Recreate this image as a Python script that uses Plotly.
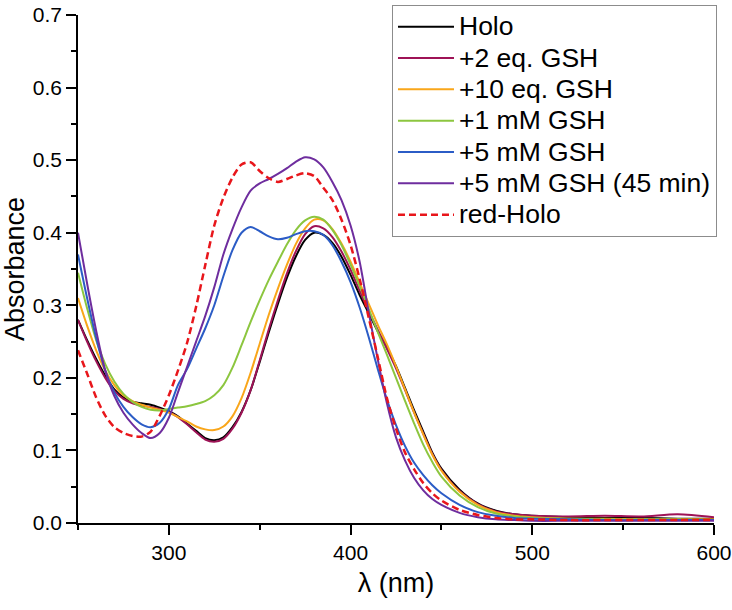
import plotly.graph_objects as go

wavelength = [250, 255, 260, 265, 270, 275, 280, 285, 290, 295, 300, 305, 310, 315, 320, 325,
              330, 335, 340, 345, 350, 355, 360, 365, 370, 375, 380, 385, 390, 395, 400, 405,
              410, 415, 420, 425, 430, 435, 440, 445, 450, 460, 470, 480, 490, 500, 520, 540,
              560, 580, 600]

holo = [0.280, 0.252, 0.226, 0.203, 0.184, 0.173, 0.167, 0.165, 0.163, 0.159, 0.154, 0.147,
        0.137, 0.127, 0.117, 0.114, 0.118, 0.132, 0.153, 0.183, 0.222, 0.263, 0.302, 0.338,
        0.368, 0.390, 0.400, 0.397, 0.386, 0.367, 0.342, 0.314, 0.289, 0.264, 0.242, 0.216,
        0.186, 0.155, 0.126, 0.097, 0.075, 0.046, 0.027, 0.017, 0.012, 0.010, 0.008, 0.007,
        0.007, 0.006, 0.006]

gsh_2eq = [0.280, 0.250, 0.223, 0.200, 0.182, 0.171, 0.165, 0.162, 0.160, 0.157, 0.153, 0.146,
           0.136, 0.125, 0.115, 0.112, 0.116, 0.130, 0.152, 0.183, 0.224, 0.267, 0.307, 0.344,
           0.375, 0.398, 0.409, 0.406, 0.394, 0.374, 0.349, 0.320, 0.292, 0.266, 0.240, 0.213,
           0.183, 0.152, 0.123, 0.095, 0.073, 0.044, 0.026, 0.016, 0.012, 0.010, 0.009, 0.010,
           0.009, 0.012, 0.008]

gsh_10eq = [0.310, 0.272, 0.238, 0.210, 0.190, 0.176, 0.168, 0.163, 0.159, 0.156, 0.152, 0.146,
            0.140, 0.133, 0.129, 0.128, 0.133, 0.147, 0.172, 0.207, 0.247, 0.287, 0.323, 0.356,
            0.385, 0.406, 0.418, 0.417, 0.405, 0.385, 0.360, 0.331, 0.302, 0.273, 0.246, 0.216,
            0.184, 0.152, 0.122, 0.094, 0.072, 0.043, 0.025, 0.015, 0.010, 0.008, 0.006, 0.006,
            0.005, 0.005, 0.005]

gsh_1mm = [0.345, 0.296, 0.252, 0.219, 0.195, 0.178, 0.167, 0.160, 0.156, 0.155, 0.157, 0.159,
           0.161, 0.164, 0.168, 0.176, 0.190, 0.214, 0.245, 0.277, 0.307, 0.335, 0.360, 0.384,
           0.404, 0.417, 0.422, 0.418, 0.404, 0.383, 0.356, 0.326, 0.295, 0.263, 0.232, 0.200,
           0.168, 0.137, 0.108, 0.084, 0.064, 0.038, 0.022, 0.013, 0.009, 0.007, 0.006, 0.005,
           0.005, 0.005, 0.004]

gsh_5mm = [0.370, 0.310, 0.255, 0.210, 0.180, 0.160, 0.146, 0.136, 0.132, 0.138, 0.157, 0.190,
           0.212, 0.240, 0.268, 0.300, 0.340, 0.376, 0.400, 0.408, 0.402, 0.395, 0.391, 0.393,
           0.398, 0.402, 0.402, 0.397, 0.383, 0.360, 0.332, 0.297, 0.256, 0.212, 0.170, 0.135,
           0.106, 0.083, 0.066, 0.052, 0.041, 0.025, 0.015, 0.010, 0.007, 0.006, 0.005, 0.004,
           0.004, 0.004, 0.004]

gsh_5mm_45 = [0.400, 0.330, 0.265, 0.210, 0.175, 0.152, 0.136, 0.124, 0.117, 0.124, 0.145, 0.180,
              0.215, 0.250, 0.285, 0.325, 0.370, 0.405, 0.435, 0.458, 0.468, 0.474, 0.481, 0.489,
              0.498, 0.504, 0.501, 0.490, 0.470, 0.445, 0.410, 0.360, 0.290, 0.225, 0.165, 0.118,
              0.086, 0.062, 0.045, 0.033, 0.025, 0.014, 0.008, 0.005, 0.004, 0.003, 0.003, 0.003,
              0.003, 0.003, 0.003]

red_holo = [0.238, 0.206, 0.173, 0.148, 0.132, 0.124, 0.120, 0.119, 0.126, 0.148, 0.176, 0.210,
            0.248, 0.298, 0.355, 0.410, 0.448, 0.476, 0.494, 0.497, 0.485, 0.475, 0.470, 0.474,
            0.479, 0.482, 0.478, 0.462, 0.445, 0.418, 0.383, 0.336, 0.283, 0.228, 0.172, 0.130,
            0.097, 0.074, 0.055, 0.041, 0.031, 0.018, 0.011, 0.007, 0.005, 0.005, 0.004, 0.004,
            0.004, 0.004, 0.004]

series_names = ["Holo", "+2 eq. GSH", "+10 eq. GSH", "+1 mM GSH", "+5 mM GSH",
                "+5 mM GSH (45 min)", "red-Holo"]
series_values = [holo, gsh_2eq, gsh_10eq, gsh_1mm, gsh_5mm, gsh_5mm_45, red_holo]
colors = ["#000000", "#9E1356", "#F9A61A", "#8CC63F", "#2B5CC6", "#6E2D9E", "#E8161B"]
dashes = ["solid"] * 6 + ["7px,4px"]

x_ticks = [300, 400, 500, 600]
y_ticks = [0.0, 0.1, 0.2, 0.3, 0.4, 0.5, 0.6, 0.7]

FONT = "Liberation Sans, Arial, sans-serif"

fig = go.Figure()
for i, (name, vals) in enumerate(zip(series_names, series_values)):
    fig.add_trace(go.Scatter(
        x=wavelength, y=vals, mode="lines",
        name=f'<span style="font-size:26.5px">{name}</span>',
        legendgroup=f"g{i}",
        line=dict(color=colors[i], width=2.5 if i == 6 else 2, dash=dashes[i],
                  shape="spline", smoothing=0.8),
    ))

fig.update_layout(
    width=732, height=610,
    margin=dict(l=78, r=18, t=15, b=87, autoexpand=False),
    paper_bgcolor="white", plot_bgcolor="white",
    font=dict(family=FONT, color="black"),
    showlegend=True,
    legend=dict(
        x=1.0047, xanchor="right", y=1.0197, yanchor="top",
        bgcolor="white", bordercolor="#8c8c8c", borderwidth=1,
        font=dict(size=21.8, family=FONT, color="black"),
        tracegroupgap=0, itemwidth=56,
    ),
)

fig.update_xaxes(
    range=[250, 600], tickvals=x_ticks, ticktext=[str(v) for v in x_ticks],
    showline=True, linecolor="black", linewidth=1.6, mirror=False,
    ticks="outside", ticklen=10, tickwidth=1.6, tickcolor="black",
    minor=dict(dtick=50, tick0=250, ticks="outside", ticklen=5, tickwidth=1.6, tickcolor="black"),
    showgrid=False, zeroline=False, automargin=False,
    tickfont=dict(size=21, family=FONT),
    title=dict(text="λ (nm)", font=dict(size=27, family=FONT), standoff=10),
)
fig.update_yaxes(
    range=[0, 0.7], tickvals=y_ticks, ticktext=[f"{v:.1f}" for v in y_ticks],
    showline=True, linecolor="black", linewidth=1.6, mirror=False,
    ticks="outside", ticklen=10, tickwidth=1.6, tickcolor="black",
    minor=dict(dtick=0.05, tick0=0, ticks="outside", ticklen=5, tickwidth=1.6, tickcolor="black"),
    showgrid=False, zeroline=False, automargin=False,
    tickfont=dict(size=21, family=FONT),
    title=dict(text="Absorbance", font=dict(size=27, family=FONT), standoff=4),
)

fig.write_html(
    "out.html",
    config={"displayModeBar": False},
    post_script="document.body.style.margin='0px';document.body.style.overflow='hidden';",
)
